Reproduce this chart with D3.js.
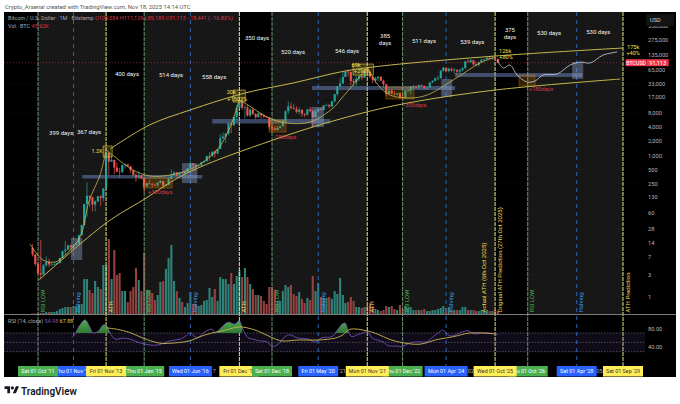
<!DOCTYPE html>
<html><head><meta charset="utf-8">
<script src="https://cdn.jsdelivr.net/npm/d3@7"></script>
<style>html,body{margin:0;padding:0;background:#fff;overflow:hidden}svg{display:block}text{font-family:Roboto,"Liberation Sans",sans-serif}</style>
</head><body><svg id="c" width="680" height="404"></svg>
<script>
// ---------- data (monthly BTCUSD, first candle Aug 2011). Month offsets "m" count from Oct 2011.
const firstOpen = 10.9;
const closes = [8,5,3.2,3,4.7,
5.5,4.9,4.9,5,5.2,6.7,9.3,10,12.4,11.2,12.6,13.5,
20.4,33.4,93,139,129,90,106,135,125,198,1120,730,
800,550,450,445,625,640,585,480,385,340,378,320,
218,254,244,236,230,263,284,230,236,315,377,430,
368,437,416,448,530,670,624,575,608,700,745,963,
970,1190,1080,1350,2300,2480,2870,4700,4340,6450,9950,13800,
10100,10300,6920,9240,7490,6390,7730,7010,6600,6300,4000,3700,
3430,3810,4100,5270,8550,10800,10080,9600,8300,9150,7560,7190,
9350,8540,6410,8620,9450,9140,11350,11650,10780,13800,19700,28990,
33100,45200,58800,57700,37300,35040,41500,47100,43800,61300,56900,46200,
38500,43200,45500,37700,31800,19990,23300,20050,19420,20490,17160,16540,
23120,23490,28470,29250,27210,30470,29230,25930,26960,34650,37720,42270,
42580,61130,71330,60640,67490,62680,64620,58970,63330,70290,96400,93360,
102400,84350,82550,94170,104600,107100,115700,108300,114100,109550,91113];
const highs = [13.2,8.2,5.5,16,5,
7.2,6.5,5.5,5.4,5.3,6.8,9.7,15.4,12.8,12.9,13,13.7,
20.7,34,94,266,139,130,112,137,145,200,1160,1160,
1000,800,700,540,630,680,660,600,490,420,460,385,
320,265,300,260,250,268,300,285,247,340,500,465,
455,445,430,450,540,780,680,620,615,730,750,970,
1150,1200,1280,1350,2790,3020,2950,5000,4980,6480,11500,19666,
17200,11800,11700,9950,10000,7780,8500,7450,7400,6700,6580,4300,
4080,4200,4130,5620,9000,13800,13100,12300,10900,10350,9500,7700,
9550,10520,9190,9450,10060,10400,11400,12450,12050,14100,19900,29000,
41950,58350,61800,64900,59600,41300,48200,50500,52900,67000,69000,59000,
47900,45800,48200,47500,40000,32400,24700,25200,22800,21000,21500,18400,
23900,25200,29200,31000,29800,31400,31800,30000,28000,35000,38400,44700,
48900,64000,73700,72700,71900,71900,70000,65000,66500,73600,99800,108300,
109000,102500,95000,95700,112000,110500,123200,124500,117900,126200,111129];
const lows = [7.2,4.5,3,2.4,2.9,
4.3,4.3,4.6,4.7,4.9,5.2,6.6,7.7,9.9,9.6,10.5,12.6,
13,19.7,33,50,80,65,65,102,85,105,195,380,
720,400,440,340,420,525,570,430,360,275,320,310,
165,215,240,210,226,220,252,198,226,235,315,360,
350,365,395,410,440,515,470,470,590,600,695,740,
750,930,900,1060,1350,2200,1830,2650,2950,4100,5500,10400,
9000,6000,6500,6450,7050,5780,6150,5880,6000,6200,3500,3120,
3350,3380,3700,4100,5350,7450,9150,9300,7700,7300,6500,6400,
6850,8400,3850,6150,8100,8900,8950,11100,9850,10400,13200,17600,
28100,32300,45000,47000,30000,28800,29300,37400,39600,43300,53300,42000,
33000,34300,37200,37600,26700,17600,18900,19500,18100,18300,15500,16300,
16500,21400,19600,26900,25800,24800,28900,25100,24900,26500,34100,36700,
38500,41900,59000,56500,56600,58400,53500,49000,52600,58900,66800,90800,
89200,78300,76600,74500,93400,98300,105100,107300,107300,103500,89189];
const volumes = [.5,.5,1,1,1,
2,2,2,2,3,5,6,7,7,7,8,8,
9,10,35,35,24,21,33,27,25,49,49,75,
35,64,39,41,23,23,12,23,27,46,34,23,
61,24,23,21,14,19,32,33,45,56,69,33,
23,16,12,7,11,22,10,10,8,9,13,14,
26,17,25,13,37,35,35,30,41,30,38,44,
37,46,37,30,25,19,19,18,13,10,27,27,
24,13,13,23,29,27,29,20,18,22,15,11,
16,14,38,23,31,17,16,16,17,15,23,20,
36,19,11,12,17,13,7,7,6,7,8,11,
8,5,4,3,4,8,7,8,5,4,9,5,
8,6,7,4,4,4,4,5,3,3,4,4,
5,6,8,6,7,4,4,4,4,7,7,4,
4,4,3,3,4,3,4,3,3,4,3];

const priceTicks = [550000,275000,135000,65000,33000,17000,8000,4000,2000,1000,500,250,130,60,28,14,7,3,1];
const rsiTicks = [80,40];
const lastPrice = 91113;

const rsiM = [12.4,13.6,15.4,17.3,19,20.2,22,24,25,26.5,28.3,31.3,33.8,36.4,39.3,43.8,48.5,52.2,54,55.9,58.5,61.4,64,65,67.6,69.9,72.4,73.9,75.4,77.2,79,81.6,84.2,86,88.2,90.8,92.6,95.6,99.3,101.8,104.4,108,110,111.8,112.9,114,115.4,117.3,119.5,121,122.8,124.6,126.8,128.7,132,133.8,136.8,140.4,143,145.2,147.8,148.9,151.5,155,158,160,163.6,168,169];
const rsiV = [60,68,87,98,83,70,73,87,87,70,57,59,57,51,46,44,53,57,62,70,60,73,78,70,83,93,89,96,76,60,57,53,51,41,46,62,66,59,57,51,60,62,76,89,91,73,62,66,70,73,59,55,51,43,42,41,49,51,51,62,73,76,63.5,70,75,68,70.6,68,66];
const maM = [25,29,33.8,38.6,44.9,48.5,55.5,61.4,68.8,73.9,76.8,80.9,86,89.7,95.6,102.9,109.2,112,114.7,121.3,124.6,129.4,134.2,140.4,146.7,152.6,158.8,168];
const maV = [81,78,71,59,48,48,53,66,76,83,81,74,60,53,55,55,59,66,78,74,68,56,49,46,56,62,70,68];
const fillRanges = [[13,27],[65.5,75],[108,115]];

const upperM = [26.5,41,55.9,76,93.8,111,123,168,215];
const upperP = [1356,4370,9070,20750,33800,57800,73800,126000,186000];
const lowerM = [.4,25,38.6,54.8,86.4,111,134,168,214];
const lowerP = [2.3,36.8,113,421,2100,5850,12160,24000,41000];
const arc1M = [-2.9,1.8,6.25,8.8,15.4,18.75,22.8,25];
const arc1P = [13.2,6.07,5.5,6.7,18.6,107,382,1295];
const arc2M = [25,28.3,34.9,41.2,48.5,57,65.8,70.6,73.9];
const arc2P = [1295,918,487,364,382,537,1295,3960,14800];
const arc3M = [73.9,77.2,84.2,91.5,100,108.5,111,117.3,121];
const arc3P = [14800,11570,6450,4815,5056,10000,14760,39100,73700];
const arc4M = [121,125,129.4,136.8,143,152.6,162.5,168];
const arc4P = [73700,30700,18800,16300,18800,39100,89600,120200];
const forecastM = [168.75,171,173.5,176.1,179.8,182.7,185.7,190.8,195.6,199.3,202.9,207.7,212.9];
const forecastP = [103700,70200,81300,49900,35500,37300,49900,52400,81300,94000,89600,132400,153300];

// boxes: m0, m1, high price, low price
const blueBars = [[16.2,60.3,382,322],[64,107.4,5850,4700],[100.7,153.3,29200,24000],[153.3,200,55000,45300]];
const blueSquares = [[12.1,16.2,17.7,6.07],[52.9,58.5,685,259],[100.4,105.1,10500,3960],[148.2,152.2,41100,17100],[196.3,200.4,94000,41100]];
const orangeBoxes = [[38.6,49.3,330,203],[84.9,91.2,5570,3100],[127.9,138.2,27800,15500],[176.8,182.7,49900,29200]];
const yellowBoxes = [[23.9,27.2,1570,918],[71.7,76.1,24000,13400],[115.8,123.2,85300,49900]];

const cycleDates = ["2011-10-01","2012-11-01","2013-11-01","2015-01-01","2016-06-01","2017-12-01","2018-12-01","2020-05-01","2021-11-01","2022-12-01","2024-04-01","2025-10-01","2026-10-01","2028-04-01","2029-09-01"];
const cycleKinds = ["g","b","y","g","b","y","g","b","y","g","b","y","g","b","y"];
const cycleLabels = ["Sat 01 Oct '11","Thu 01 Nov '12","Fri 01 Nov '13","Thu 01 Jan '15","Wed 01 Jun '16","Fri 01 Dec '17","Sat 01 Dec '18","Fri 01 May '20","Mon 01 Nov '21","Thu 01 Dec '22","Mon 01 Apr '24","Wed 01 Oct '25","Thu 01 Oct '26","Sat 01 Apr '28","Sat 01 Sep '29"];
const cycleNotes = ["RSI LOW","Halving","ATH","RSI LOW","Halving","ATH","RSI LOW","Halving","ATH","RSI LOW","Halving","Original ATH Prediction (27th Oct 2025)","RSI LOW","Halving","ATH Prediction"];
const tagOrder = [1,4,7,10,13,0,3,9,12,5,6,2,8,11,14];
const faintTexts = ["7","'21","'02","'05"];
const faintM = [64.7,111.8,158.9,206.2];

const dayTexts = ["399 days","367 days","400 days","514 days","558 days","350 days","520 days","546 days","385","days","511 days","539 days","375","days","530 days","530 days"];
const dayM = [8.5,18.75,32.7,48.9,64.7,80.5,93.75,113.6,127.6,127.6,141.9,159.6,173.5,173.5,187.9,205.9];
const dayP = [2960,3100,52400,49900,46400,303000,153000,160800,334000,237700,262000,249000,448000,318000,386000,405000];
const yellowTexts = ["1.2K","20k","+1502%","69k","+290%","126k","+80%","175k","+40%"];
const yellowM = [21.7,71,73.2,116.9,119.1,171.7,172,218.75,218.75];
const yellowP = [1230,21800,15500,81300,60700,160800,120000,195400,146000];
const redTexts = ["+300days","-180days","-300days","+180days"];
const redM = [44.9,90.8,138.6,184.9];
const redP = [167,2430,11600,25200];

// ---------- scales
const svg = d3.select("#c");
const start = new Date(Date.UTC(2011,9,1));
const x = d3.scaleUtc().domain([start,new Date(Date.UTC(2029,8,1))]).range([38,623]);
const mDate = m => { const f=Math.floor(m); return new Date(+d3.utcMonth.offset(start,f)+(m-f)*30.44*864e5); };
const X = m => x(mDate(m));
const y = d3.scaleLog().domain([1,275000]).range([297,40]);
const v = d3.scaleLinear().domain([0,75]).range([314,239]);
const r = d3.scaleLinear().domain([80,40]).range([328.3,347]);
const pd = d3.utcParse("%Y-%m-%d");
const L=4,R=676,T=12,PR=645,VB=314,B=377;
const colors={g:"#4caf50",b:"#2962ff",y:"#ffee58"};
const lineC={g:"#6c9a70",b:"#2d62b8",y:"#e9e480"};
const noteC={g:"#4caf50",b:"#3a9be8",y:"#eadf50"};

svg.append("text").attr("x",5).attr("y",8.5).attr("font-size",5.9).attr("fill","#555").text("Crypto_Arsenal created with TradingView.com, Nov 18, 2025 14:14 UTC");
svg.append("rect").attr("x",L).attr("y",T).attr("width",R-L).attr("height",B-T).attr("fill","#000");

// alternating bands between a green line and the next yellow line
const bandPairs=[[0,2],[3,5],[6,8],[9,11],[12,14]];
svg.append("g").selectAll("rect").data(bandPairs).join("rect")
 .attr("x",d=>x(pd(cycleDates[d[0]]))).attr("width",d=>x(pd(cycleDates[d[1]]))-x(pd(cycleDates[d[0]])))
 .attr("y",T).attr("height",VB-T).attr("fill","#171717");

// grid
const grid=svg.append("g").attr("stroke","#fff").attr("stroke-opacity",.035).attr("stroke-width",.6);
grid.selectAll("line").data(priceTicks.slice(1)).join("line").attr("x1",L).attr("x2",PR).attr("y1",d=>y(d)).attr("y2",d=>y(d));

// volume
const mAt=i=>i-2;
const opens=closes.map((c,i)=>i?closes[i-1]:firstOpen);
const barW=2.1;
svg.append("g").selectAll("rect").data(volumes).join("rect")
 .attr("x",(d,i)=>X(mAt(i))-barW/2).attr("width",barW).attr("y",d=>v(d)).attr("height",d=>VB-v(d))
 .attr("fill",(d,i)=>closes[i]>=opens[i]?"#2f8278":"#98403f");

// cycle lines
svg.append("g").selectAll("line").data(cycleDates).join("line")
 .attr("x1",d=>x(pd(d))).attr("x2",d=>x(pd(d))).attr("y1",T).attr("y2",366)
 .attr("stroke",(d,i)=>lineC[cycleKinds[i]]).attr("stroke-width",1)
 .attr("stroke-dasharray",(d,i)=>cycleKinds[i]=="b"?"4,4":"4,1");

// boxes
const box=(data,fill,stroke)=>svg.append("g").selectAll("rect").data(data).join("rect")
 .attr("x",d=>X(d[0])).attr("width",d=>X(d[1])-X(d[0])).attr("y",d=>y(d[2])).attr("height",d=>y(d[3])-y(d[2]))
 .attr("fill",fill).attr("stroke",stroke).attr("stroke-width",.6);
box(blueBars,"rgba(120,150,215,.45)","none");

// candles
const cg=svg.append("g");
cg.selectAll("line").data(closes).join("line")
 .attr("x1",(d,i)=>X(mAt(i))).attr("x2",(d,i)=>X(mAt(i))).attr("y1",(d,i)=>y(highs[i])).attr("y2",(d,i)=>y(lows[i]))
 .attr("stroke",(d,i)=>d>=opens[i]?"#26a69a":"#ef5350").attr("stroke-width",.7);
cg.selectAll("rect").data(closes).join("rect")
 .attr("x",(d,i)=>X(mAt(i))-barW/2).attr("width",barW)
 .attr("y",(d,i)=>y(Math.max(d,opens[i]))).attr("height",(d,i)=>Math.max(.7,Math.abs(y(d)-y(opens[i]))))
 .attr("fill",(d,i)=>d>=opens[i]?"#26a69a":"#ef5350");

box(blueSquares,"rgba(150,170,215,.38)","none");
box(orangeBoxes,"rgba(255,152,0,.2)","rgba(255,152,0,.5)");
box(yellowBoxes,"rgba(255,235,59,.18)","#d8c83a");

// last price dotted line
svg.append("line").attr("x1",L).attr("x2",PR).attr("y1",y(lastPrice)).attr("y2",y(lastPrice))
 .attr("stroke","#f23645").attr("stroke-opacity",.7).attr("stroke-width",.7).attr("stroke-dasharray","1,2");

// curves
const mk=(M,P,w,c,crv)=>svg.append("path").datum(M.map((m,i)=>[X(m),y(P[i])]))
 .attr("d",d3.line().curve(crv||d3.curveCatmullRom)).attr("fill","none").attr("stroke",c).attr("stroke-width",w);
mk(upperM,upperP,1,"#c5b84e");
mk(lowerM,lowerP,1,"#c5b84e");
[[arc1M,arc1P],[arc2M,arc2P],[arc3M,arc3P],[arc4M,arc4P]].forEach(a=>mk(a[0],a[1],.8,"#c5b84e"));
mk(forecastM,forecastP,.8,"#c8d2e4");

// day labels
svg.append("g").selectAll("text").data(dayTexts).join("text").attr("x",(d,i)=>X(dayM[i])).attr("y",(d,i)=>y(dayP[i])+2)
 .attr("text-anchor","middle").attr("font-size",6).attr("fill","#f2f2f2").text(d=>d);
svg.append("g").selectAll("text").data(yellowTexts).join("text").attr("x",(d,i)=>X(yellowM[i])).attr("y",(d,i)=>y(yellowP[i])+2)
 .attr("text-anchor","middle").attr("font-size",5.6).attr("fill","#f0e04a").text(d=>d);
svg.append("g").selectAll("text").data(redTexts).join("text").attr("x",(d,i)=>X(redM[i])).attr("y",(d,i)=>y(redP[i])+2)
 .attr("text-anchor","middle").attr("font-size",5.6).attr("fill","#d8394a").text(d=>d);

// rotated notes
const note=(t,xp,c)=>svg.append("text").attr("transform",`translate(${xp},312.5) rotate(-90)`).attr("font-size",6).attr("fill",c).text(t);
cycleDates.forEach((d,i)=>note(cycleNotes[i],x(pd(d))+6.5,noteC[cycleKinds[i]]));
note("Actual ATH (6th Oct 2025)",x(pd(cycleDates[11]))-9.5,noteC.y);

// separator
svg.append("line").attr("x1",L).attr("x2",R).attr("y1",VB+.5).attr("y2",VB+.5).attr("stroke","#9c9c9c").attr("stroke-width",.8);

// RSI pane
svg.append("rect").attr("x",L).attr("width",PR-L).attr("y",r(70)).attr("height",r(30)-r(70)).attr("fill","rgba(126,87,194,.12)");
svg.append("g").selectAll("line").data([70,50,30]).join("line").attr("x1",L).attr("x2",PR).attr("y1",d=>r(d)).attr("y2",d=>r(d))
 .attr("stroke","#787b86").attr("stroke-width",.6).attr("stroke-dasharray","1.5,1.5");
const defs=svg.append("defs");
const gr=defs.append("linearGradient").attr("id","gf").attr("x1",0).attr("x2",0).attr("y1",0).attr("y2",1);
gr.append("stop").attr("offset",0).attr("stop-color","#4caf50");
gr.append("stop").attr("offset",1).attr("stop-color","#123d18");
const cp=defs.append("clipPath").attr("id","ob");
cp.selectAll("rect").data(fillRanges).join("rect").attr("x",d=>X(d[0])).attr("width",d=>X(d[1])-X(d[0])).attr("y",T).attr("height",r(70)-T);
const rsiPts=rsiM.map((m,i)=>[X(m),r(rsiV[i])]);
svg.append("path").datum(rsiPts).attr("clip-path","url(#ob)").attr("fill","url(#gf)")
 .attr("d",d3.area().y0(r(70)).curve(d3.curveCatmullRom));
svg.append("path").datum(rsiPts).attr("d",d3.line().curve(d3.curveCatmullRom)).attr("fill","none").attr("stroke","#7e57c2").attr("stroke-width",.8);
svg.append("path").datum(maM.map((m,i)=>[X(m),r(maV[i])])).attr("d",d3.line().curve(d3.curveCatmullRom)).attr("fill","none").attr("stroke","#c9b64e").attr("stroke-width",.9);

// legends
const leg=svg.append("text").attr("x",8).attr("y",19.5).attr("font-size",5.5).attr("fill","#a8abb4");
leg.append("tspan").text("Bitcoin / U.S. Dollar · 1M · Bitstamp  ");
leg.append("tspan").attr("fill","#d8394a").text("O109,554 H111,129 L89,189 C91,113 −18,441 (−16.83%)");
const leg2=svg.append("text").attr("x",8).attr("y",27.5).attr("font-size",5.5).attr("fill","#a8abb4");
leg2.append("tspan").text("Vol · BTC  ");
leg2.append("tspan").attr("fill","#d8394a").text("45.62K");
const leg3=svg.append("text").attr("x",8).attr("y",322.5).attr("font-size",5.5).attr("fill","#a8abb4");
leg3.append("tspan").text("RSI (14, close)  ");
leg3.append("tspan").attr("fill","#7e57c2").text("54.98  ");
leg3.append("tspan").attr("fill","#e0c94a").text("67.88");

// axes
const ax=svg.append("g").attr("transform","translate(648,0)").call(d3.axisRight(y).tickValues(priceTicks).tickFormat(d3.format(",")).tickSize(0).tickPadding(0));
const ax2=svg.append("g").attr("transform","translate(648,0)").call(d3.axisRight(r).tickValues(rsiTicks).tickFormat(d3.format(".2f")).tickSize(0).tickPadding(0));
[ax,ax2].forEach(a=>{a.select(".domain").remove();a.selectAll("text").attr("font-size",5.7).attr("fill","#b2b5be").style("font-family","Roboto,sans-serif");});
svg.append("rect").attr("x",646).attr("y",14).attr("width",28).attr("height",12).attr("rx",1.5).attr("fill","#131313");
svg.append("text").attr("x",650).attr("y",22).attr("font-size",5.6).attr("fill","#d1d4dc").text("USD");

// last price tag
svg.append("rect").attr("x",X(216)).attr("y",y(lastPrice)-3.5).attr("width",21).attr("height",7).attr("fill","#f23645");
svg.append("rect").attr("x",X(216)+21).attr("y",y(lastPrice)-3.5).attr("width",22).attr("height",7).attr("fill","#f0364a");
svg.append("text").attr("x",X(216)+10.5).attr("y",y(lastPrice)+2).attr("text-anchor","middle").attr("font-size",5.3).attr("fill","#fff").text("BTCUSD");
svg.append("text").attr("x",X(216)+32).attr("y",y(lastPrice)+2).attr("text-anchor","middle").attr("font-size",5.6).attr("fill","#fff").text(d3.format(",")(lastPrice));

// time tags
svg.append("g").selectAll("text").data(faintTexts).join("text").attr("x",(d,i)=>X(faintM[i])).attr("y",373.2).attr("text-anchor","middle").attr("font-size",5.4).attr("fill","#b2b5be").text(d=>d);
const tagW=i=>/^(Mon|Wed)/.test(cycleLabels[i])?43:40;
const tg=svg.append("g").selectAll("g").data(tagOrder).join("g");
tg.append("rect").attr("x",i=>x(pd(cycleDates[i]))-tagW(i)/2).attr("y",366).attr("width",tagW).attr("height",10.5).attr("fill",i=>colors[cycleKinds[i]]);
tg.append("text").attr("x",i=>x(pd(cycleDates[i]))).attr("y",373.2).attr("text-anchor","middle").attr("font-size",5.4)
 .attr("fill",i=>cycleKinds[i]=="y"?"#333":"#fff").text(i=>cycleLabels[i]);

// watermark logo
const lg=svg.append("g").attr("transform","translate(4.6,384) scale(.39)").attr("fill","#131722");
lg.append("path").attr("d","M14 6H0v7h7v11h7V6z M29 24h-8l8-18h8l-8 18z");
lg.append("circle").attr("cx",20).attr("cy",10).attr("r",4);
svg.append("text").attr("x",21).attr("y",394.5).attr("font-size",10).attr("font-weight",600).attr("fill","#131722").text("TradingView");
</script></body></html>
